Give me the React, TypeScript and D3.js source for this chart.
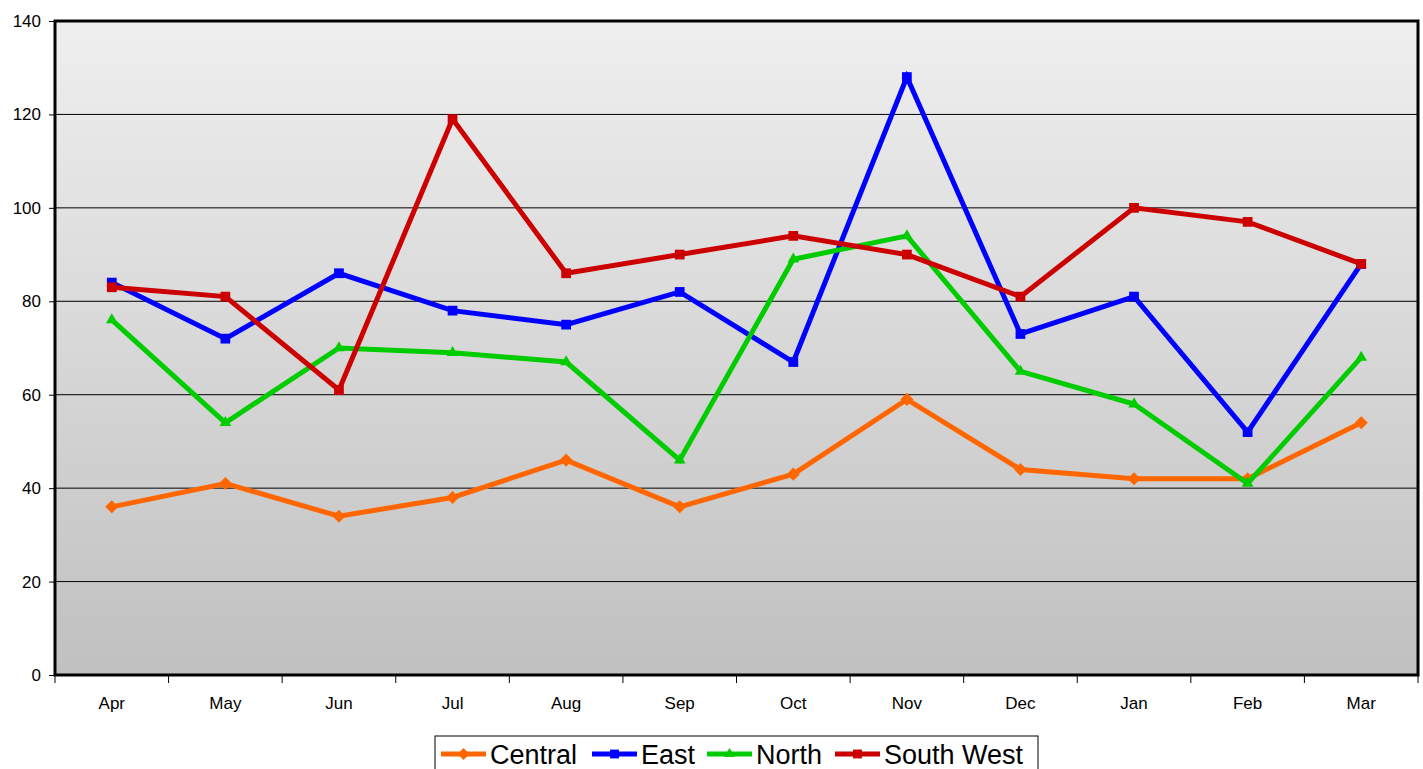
import { useEffect, useRef } from "react";
import * as d3 from "d3";

const months = ["Apr", "May", "Jun", "Jul", "Aug", "Sep", "Oct", "Nov", "Dec", "Jan", "Feb", "Mar"];
const central = [36, 41, 34, 38, 46, 36, 43, 59, 44, 42, 42, 54];
const east = [84, 72, 86, 78, 75, 82, 67, 128, 73, 81, 52, 88];
const north = [76, 54, 70, 69, 67, 46, 89, 94, 65, 58, 41, 68];
const southWest = [83, 81, 61, 119, 86, 90, 94, 90, 81, 100, 97, 88];
const yTicks = [0, 20, 40, 60, 80, 100, 120, 140];

const series = [
  { name: "Central", values: central, color: "#ff6600", marker: "diamond" },
  { name: "East", values: east, color: "#0000ff", marker: "square" },
  { name: "North", values: north, color: "#00cc00", marker: "triangle" },
  { name: "South West", values: southWest, color: "#cc0000", marker: "square" },
];

const W = 1423;
const H = 769;
const FONT = "'Liberation Sans', Arial, sans-serif";

function markerPath(kind: string, size: number) {
  if (kind === "diamond") return d3.symbol(d3.symbolDiamond2, size * size * 0.9)()!;
  if (kind === "triangle") return d3.symbol(d3.symbolTriangle2, size * size * 0.8)()!;
  return d3.symbol(d3.symbolSquare2, size * size)()!;
}

export default function App() {
  const svgRef = useRef<SVGSVGElement | null>(null);

  useEffect(() => {
    if (!svgRef.current) return;
    const svg = d3.select(svgRef.current);
    svg.selectAll("*").remove();

    const margin = { top: 21, right: 5, bottom: 94, left: 55 };
    const innerW = W - margin.left - margin.right;
    const innerH = H - margin.top - margin.bottom;

    const x = d3.scaleBand<string>().domain(months).range([0, innerW]);
    const y = d3.scaleLinear().domain([0, 140]).range([innerH, 0]);

    const defs = svg.append("defs");
    const grad = defs.append("linearGradient")
      .attr("id", "plot-bg")
      .attr("x1", "0%").attr("y1", "0%")
      .attr("x2", "0%").attr("y2", "100%");
    grad.append("stop").attr("offset", "0%").attr("stop-color", "#efefef");
    grad.append("stop").attr("offset", "100%").attr("stop-color", "#c0c0c0");

    const g = svg.append("g").attr("transform", `translate(${margin.left},${margin.top})`);

    g.append("rect")
      .attr("width", innerW)
      .attr("height", innerH)
      .attr("fill", "url(#plot-bg)");

    // horizontal grid lines
    g.append("g")
      .selectAll("line")
      .data(yTicks.slice(1, -1))
      .enter()
      .append("line")
      .attr("x1", 0)
      .attr("x2", innerW)
      .attr("y1", d => y(d))
      .attr("y2", d => y(d))
      .attr("stroke", "#000")
      .attr("stroke-width", 1);

    // y axis
    const yAxis = g.append("g")
      .call(d3.axisLeft(y).tickValues(yTicks).tickSize(6).tickPadding(8).tickFormat(d => `${d}`));
    yAxis.select(".domain").remove();
    yAxis.selectAll("line").attr("stroke", "#000");
    yAxis.selectAll("text")
      .attr("font-family", FONT)
      .attr("font-size", "17px")
      .attr("fill", "#000");

    // x axis: ticks between categories
    const bounds = d3.range(months.length + 1).map(i => i * x.step());
    g.append("g")
      .selectAll("line")
      .data(bounds)
      .enter()
      .append("line")
      .attr("x1", d => d)
      .attr("x2", d => d)
      .attr("y1", innerH)
      .attr("y2", innerH + 8)
      .attr("stroke", "#000")
      .attr("stroke-width", 1);

    g.append("g")
      .selectAll("text")
      .data(months)
      .enter()
      .append("text")
      .attr("x", d => x(d)! + x.bandwidth() / 2)
      .attr("y", innerH + 34)
      .attr("text-anchor", "middle")
      .attr("font-family", FONT)
      .attr("font-size", "17px")
      .attr("fill", "#000")
      .text(d => d);

    // plot border
    g.append("rect")
      .attr("width", innerW)
      .attr("height", innerH)
      .attr("fill", "none")
      .attr("stroke", "#000")
      .attr("stroke-width", 3);

    const line = d3.line<number>()
      .x((_, i) => x(months[i])! + x.bandwidth() / 2)
      .y(d => y(d));

    series.forEach(s => {
      g.append("path")
        .datum(s.values)
        .attr("d", line)
        .attr("fill", "none")
        .attr("stroke", s.color)
        .attr("stroke-width", 5)
        .attr("stroke-linejoin", "miter");

      g.append("g")
        .selectAll("path")
        .data(s.values)
        .enter()
        .append("path")
        .attr("transform", (d, i) => `translate(${x(months[i])! + x.bandwidth() / 2},${y(d)})`)
        .attr("d", markerPath(s.marker, 11))
        .attr("fill", s.color);
    });

    // legend
    const legend = svg.append("g").attr("transform", "translate(435,736)");
    legend.append("rect")
      .attr("width", 603)
      .attr("height", 40)
      .attr("fill", "#fff")
      .attr("stroke", "#000")
      .attr("stroke-width", 1);

    const itemX = [6, 157, 272, 400];
    series.forEach((s, i) => {
      const item = legend.append("g").attr("transform", `translate(${itemX[i]},18)`);
      item.append("line")
        .attr("x1", 0)
        .attr("x2", 45)
        .attr("stroke", s.color)
        .attr("stroke-width", 5);
      item.append("path")
        .attr("transform", "translate(22.5,0)")
        .attr("d", markerPath(s.marker, 10))
        .attr("fill", s.color);
      item.append("text")
        .attr("x", 49)
        .attr("y", 10)
        .attr("font-family", FONT)
        .attr("font-size", "27px")
        .attr("fill", "#000")
        .text(s.name);
    });
  }, []);

  return (
    <svg
      ref={svgRef}
      width={W}
      height={H}
      style={{ position: "absolute", left: 0, top: 0, display: "block", background: "#fff" }}
    />
  );
}
